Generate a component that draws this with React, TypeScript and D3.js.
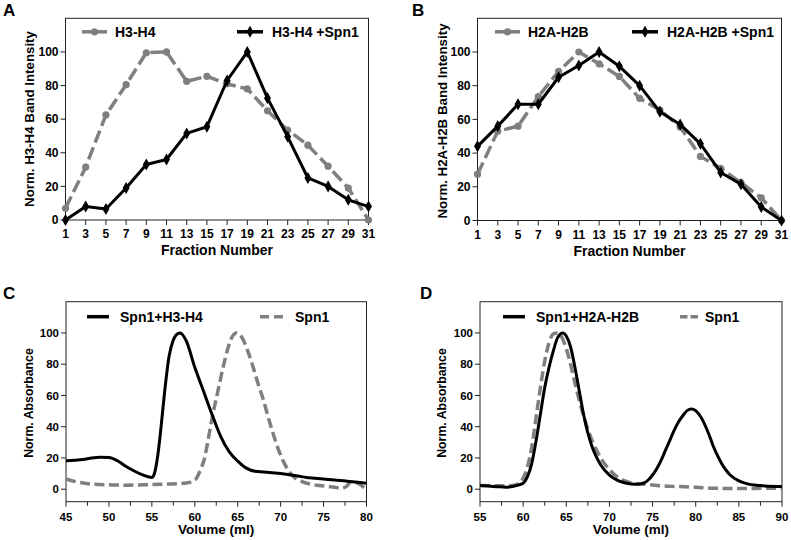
import React from "react";
import * as d3 from "d3";

// ---------- DATA ----------
const fractions = [1, 3, 5, 7, 9, 11, 13, 15, 17, 19, 21, 23, 25, 27, 29, 31];
const h3h4 = [7, 31.5, 62.5, 80.5, 99.5, 100, 82.5, 85.5, 81, 78, 65, 53.5, 44.5, 32, 19, 0];
const h3h4Spn1 = [0, 8, 6.5, 19, 33, 36, 51.5, 55.5, 83, 100, 72.5, 49.5, 25, 20, 12, 8];
const h2ah2b = [27.5, 53, 56, 73.5, 88.5, 100, 93, 85.5, 72.5, 65.5, 55.5, 38, 31, 22.5, 13.5, 0];
const h2ah2bSpn1 = [44, 56, 69, 69, 85, 92, 100, 91.5, 80, 64.5, 57, 45.5, 28.5, 21.5, 8, 0];
const yTicksTop = [0, 20, 40, 60, 80, 100];

const cVolume = [45, 46, 47, 48, 49, 50, 51, 52, 53, 54, 55, 55.3, 55.7, 56, 56.5, 57, 57.5, 58, 58.3, 59, 60, 61, 62, 63, 64, 65, 66, 67, 68, 69, 70, 71, 72, 73, 74, 75, 76, 77, 78, 79, 80];
const cSpn1H3H4 = [18.2, 18.5, 19, 20, 20.5, 20.3, 18.2, 14.5, 11.5, 9, 7.5, 10, 22, 36, 63, 85, 95.5, 99.5, 100, 95, 78, 63, 48, 34, 24, 18, 13.5, 11.5, 11, 10.5, 10, 9.3, 8.5, 7.5, 7, 6.5, 6, 5.5, 5, 4.4, 3.8];
const cVolumeSpn1 = [45, 46, 47, 48, 50, 52, 54, 56, 58, 59, 59.7, 60.2, 60.7, 61.1, 61.5, 62, 62.7, 63.3, 63.9, 64.4, 64.85, 65.5, 66.2, 66.8, 67.4, 68, 68.5, 69.1, 69.7, 70.3, 70.9, 71.6, 72.5, 73.5, 74.5, 75.6, 76.5, 77.1, 77.6, 78.2, 78.6, 79, 79.5, 80];
const cSpn1 = [6.5, 5, 4, 3.2, 2.8, 2.6, 2.8, 3.2, 3.5, 4, 5, 7, 13, 19, 30, 45, 63, 78, 91, 98, 100, 97, 88, 78, 67, 57, 47, 36, 26, 18, 12, 7.5, 4.9, 3.2, 2.4, 1.7, 1, 0.6, 1.5, 4.5, 4.2, 3.8, 2, -0.4];

const dVolume = [55, 56, 57, 58, 59, 59.5, 60, 60.5, 61, 61.5, 62, 62.5, 63, 63.5, 64, 64.6, 65, 65.5, 66, 66.5, 67, 67.5, 68, 68.5, 69, 70, 71, 72, 73, 74, 74.5, 75, 75.5, 76, 76.5, 77, 77.5, 78, 78.5, 79, 79.5, 80, 80.5, 81, 81.5, 82, 82.5, 83, 83.5, 84, 85, 86, 87, 88, 90];
const dSpn1H2AH2B = [2.3, 2, 1.6, 1.3, 2, 2.8, 3.8, 8, 16.5, 31, 48, 65, 78, 88.5, 97, 100, 98, 91, 78, 63, 48, 36, 27, 20.5, 15.5, 9, 5.5, 3.8, 3.2, 4, 5.9, 9.1, 13.3, 18.6, 25, 31.3, 37.6, 43, 47, 50.3, 51.4, 50.3, 47, 42, 35.5, 28, 21.8, 16.5, 12.3, 9.1, 5.3, 3.4, 2.5, 2.1, 1.7];
const dVolumeSpn1 = [55, 57, 58, 59, 59.5, 60, 60.5, 61, 61.5, 62, 62.5, 63, 63.5, 64, 64.5, 65, 65.5, 66, 66.5, 67, 67.5, 68, 68.5, 69, 70, 71, 72, 73, 74, 76, 78, 80, 82, 85, 88, 90];
const dSpn1 = [2.3, 2.2, 2.1, 2.5, 3.8, 7, 14.4, 27, 46, 65, 82, 93.7, 99.4, 100, 97, 90, 80, 68, 57, 47, 38.5, 31, 25, 20, 12.5, 7.5, 5, 3.5, 3.2, 2.1, 1.7, 1.3, 0.6, 0.4, 0.6, 0.6];

const cTicks = [45, 50, 55, 60, 65, 70, 75, 80];
const dTicks = [55, 60, 65, 70, 75, 80, 85, 90];

const GRAY = "#7f7f7f";
const FONT = "'Liberation Sans', Arial, sans-serif";

type Pt = [number, number];

function Frame({ x0, x1, y0, y1 }: { x0: number; x1: number; y0: number; y1: number }) {
  return <rect x={x0} y={y0} width={x1 - x0} height={y1 - y0} fill="none" stroke="#222" strokeWidth={1} />;
}

function FractionPanel(props: {
  ox: number; left: number; right: number; top: number; bottom: number;
  grayVals: number[]; blackVals: number[]; grayName: string; blackName: string; yLabel: string;
  letter: string; legend: { gx: number; bx: number }; yLabelX: number; yLabelY: number;
}) {
  const { left, right, top, bottom, grayVals, blackVals } = props;
  const x = d3.scaleLinear().domain([1, 31]).range([left, right]);
  const y = d3.scaleLinear().domain([0, 120]).range([bottom, top]);
  const line = d3.line<Pt>().x((d) => x(d[0])).y((d) => y(d[1]));
  const gPts: Pt[] = fractions.map((f, i) => [f, grayVals[i]]);
  const bPts: Pt[] = fractions.map((f, i) => [f, blackVals[i]]);
  const diamond = d3.symbol(d3.symbolDiamond, 42)()!;
  const ly = top + 13.5;
  return (
    <g>
      <text x={props.ox} y={16} fontSize={17} fontWeight="bold" fontFamily={FONT}>{props.letter}</text>
      <Frame x0={left} x1={right} y0={top} y1={bottom} />
      {yTicksTop.map((t) => (
        <g key={t}>
          <line x1={left - 5} x2={left} y1={y(t)} y2={y(t)} stroke="#222" />
          <text x={left - 7} y={y(t)} dy="0.36em" textAnchor="end" fontSize={12} fontWeight="bold" fontFamily={FONT}>{t}</text>
        </g>
      ))}
      {fractions.map((t) => (
        <g key={t}>
          <line x1={x(t)} x2={x(t)} y1={bottom} y2={bottom + 5} stroke="#222" />
          <text x={x(t)} y={bottom + 18} textAnchor="middle" fontSize={12} fontWeight="bold" fontFamily={FONT}>{t}</text>
        </g>
      ))}
      <text x={(left + right) / 2} y={bottom + 35} textAnchor="middle" fontSize={14} fontWeight="bold" fontFamily={FONT}>Fraction Number</text>
      <text transform={`translate(${props.yLabelX},${props.yLabelY}) rotate(-90)`} dy="0.36em" textAnchor="middle" fontSize={13.3} fontWeight="bold" fontFamily={FONT}>{props.yLabel}</text>
      <path d={line(gPts)!} fill="none" stroke={GRAY} strokeWidth={3.5} strokeDasharray="13,5" />
      {gPts.map((p, i) => <circle key={i} cx={x(p[0])} cy={y(p[1])} r={3.6} fill={GRAY} />)}
      <path d={line(bPts)!} fill="none" stroke="#000" strokeWidth={3} strokeLinejoin="round" />
      {bPts.map((p, i) => <path key={i} d={diamond} transform={`translate(${x(p[0])},${y(p[1])})`} fill="#000" />)}
      {/* legend */}
      <line x1={props.legend.gx} x2={props.legend.gx + 25} y1={ly} y2={ly} stroke={GRAY} strokeWidth={3.5} />
      <circle cx={props.legend.gx + 12.5} cy={ly} r={3.6} fill={GRAY} />
      <text x={props.legend.gx + 33} y={ly} dy="0.36em" fontSize={14} fontWeight="bold" fontFamily={FONT}>{props.grayName}</text>
      <line x1={props.legend.bx} x2={props.legend.bx + 26} y1={ly} y2={ly} stroke="#000" strokeWidth={3.5} />
      <path d={diamond} transform={`translate(${props.legend.bx + 13},${ly})`} fill="#000" />
      <text x={props.legend.bx + 35} y={ly} dy="0.36em" fontSize={14} fontWeight="bold" fontFamily={FONT}>{props.blackName}</text>
    </g>
  );
}

function ChromPanel(props: {
  ox: number; left: number; right: number; top: number; bottom: number; domain: [number, number]; ticks: number[];
  bx: number[]; by: number[]; gx: number[]; gy: number[]; blackName: string; letter: string;
  legBx: number; legGx: number; legGw: number; legDash: string; legGtext: number; yLabelX: number;
}) {
  const { left, right, top, bottom } = props;
  const x = d3.scaleLinear().domain(props.domain).range([left, right]);
  const y = d3.scaleLinear().domain([-8, 120]).range([bottom, top]);
  const line = d3.line<Pt>().x((d) => x(d[0])).y((d) => y(d[1])).curve(d3.curveMonotoneX);
  const bPts: Pt[] = props.bx.map((v, i) => [v, props.by[i]]);
  const gPts: Pt[] = props.gx.map((v, i) => [v, props.gy[i]]);
  const minor = props.ticks.slice(0, -1).map((t) => t + 2.5);
  const ly = top + 15;
  return (
    <g>
      <text x={props.ox} y={299} fontSize={17} fontWeight="bold" fontFamily={FONT}>{props.letter}</text>
      <Frame x0={left} x1={right} y0={top} y1={bottom} />
      {yTicksTop.map((t) => (
        <g key={t}>
          <line x1={left - 5} x2={left} y1={y(t)} y2={y(t)} stroke="#222" />
          <text x={left - 7} y={y(t)} dy="0.36em" textAnchor="end" fontSize={11.5} fontWeight="bold" fontFamily={FONT}>{t}</text>
        </g>
      ))}
      {props.ticks.map((t) => (
        <g key={t}>
          <line x1={x(t)} x2={x(t)} y1={bottom} y2={bottom + 5} stroke="#222" />
          <text x={x(t)} y={bottom + 19} textAnchor="middle" fontSize={11.5} fontWeight="bold" fontFamily={FONT}>{t}</text>
        </g>
      ))}
      {minor.map((t) => <line key={t} x1={x(t)} x2={x(t)} y1={bottom} y2={bottom + 4} stroke="#222" />)}
      <text x={(left + right) / 2} y={bottom + 32} textAnchor="middle" fontSize={13.5} fontWeight="bold" fontFamily={FONT}>Volume (ml)</text>
      <text transform={`translate(${props.yLabelX},403) rotate(-90)`} dy="0.36em" textAnchor="middle" fontSize={12.3} fontWeight="bold" fontFamily={FONT}>Norm. Absorbance</text>
      <path d={line(gPts)!} fill="none" stroke={GRAY} strokeWidth={3.5} strokeDasharray="10,4.5" />
      <path d={line(bPts)!} fill="none" stroke="#000" strokeWidth={3} />
      <line x1={props.legBx} x2={props.legBx + 22} y1={ly} y2={ly} stroke="#000" strokeWidth={3.5} />
      <text x={props.legBx + 33} y={ly} dy="0.36em" fontSize={14} fontWeight="bold" fontFamily={FONT}>{props.blackName}</text>
      <line x1={props.legGx} x2={props.legGx + props.legGw} y1={ly} y2={ly} stroke={GRAY} strokeWidth={3.5} strokeDasharray={props.legDash} />
      <text x={props.legGtext} y={ly} dy="0.36em" fontSize={14} fontWeight="bold" fontFamily={FONT}>Spn1</text>
    </g>
  );
}

export default function App() {
  return (
    <svg width={791} height={540} style={{ position: "absolute", left: 0, top: 0, background: "#fff" }}>
      <FractionPanel ox={3} left={65.5} right={368.5} top={18.3} bottom={220} grayVals={h3h4} blackVals={h3h4Spn1}
        grayName="H3-H4" blackName="H3-H4 +Spn1" yLabel="Norm. H3-H4 Band Intensity" letter="A"
        legend={{ gx: 82, bx: 237 }} yLabelX={29} yLabelY={119} />
      <FractionPanel ox={412} left={477.5} right={781.5} top={18.3} bottom={220.5} grayVals={h2ah2b} blackVals={h2ah2bSpn1}
        grayName="H2A-H2B" blackName="H2A-H2B +Spn1" yLabel="Norm. H2A-H2B Band Intensity" letter="B"
        legend={{ gx: 495, bx: 632 }} yLabelX={442} yLabelY={121} />
      <ChromPanel ox={3} left={66} right={366.5} top={301.7} bottom={501.7} domain={[45, 80]} ticks={cTicks}
        bx={cVolume} by={cSpn1H3H4} gx={cVolumeSpn1} gy={cSpn1} blackName="Spn1+H3-H4" letter="C"
        legBx={87} legGx={260} legGw={23} legDash="9,5" legGtext={295} yLabelX={28.5} />
      <ChromPanel ox={420} left={480} right={782} top={301.7} bottom={501.7} domain={[55, 90]} ticks={dTicks}
        bx={dVolume} by={dSpn1H2AH2B} gx={dVolumeSpn1} gy={dSpn1} blackName="Spn1+H2A-H2B" letter="D"
        legBx={503} legGx={680} legGw={18} legDash="7.5,3" legGtext={705} yLabelX={442} />
    </svg>
  );
}
